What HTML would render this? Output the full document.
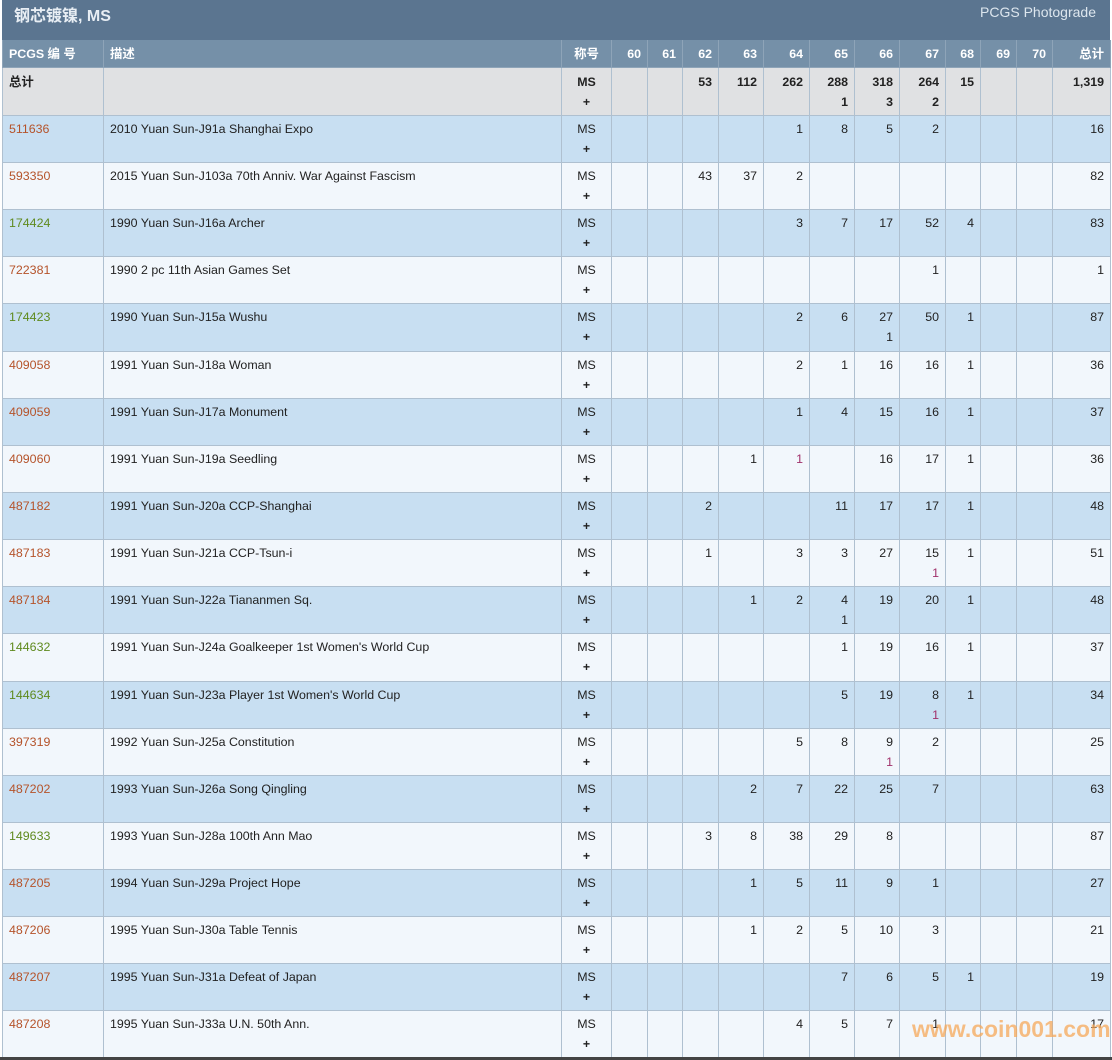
<!DOCTYPE html><html><head><meta charset="utf-8"><style>
body{margin:0;width:1112px;height:1060px;overflow:hidden;background:#fff;font-family:"Liberation Sans","Noto Sans CJK SC",sans-serif;font-size:12.4px;color:#222;position:relative}
.title{position:absolute;left:2px;top:0;width:1108px;height:40px;background:#5b7590;color:#e8eef4}
.title .l{position:absolute;left:12px;top:2px;font-size:16px;font-weight:bold}
.title .r{position:absolute;right:14px;top:4px;font-size:14px;color:#dde6ee}
table{position:absolute;left:2px;top:40px;border-collapse:collapse;table-layout:fixed;width:1108px}
td,th{border:1px solid #afc0d0;vertical-align:top;padding:3px 6px 0 6px;line-height:20px;text-align:right;overflow:hidden;white-space:nowrap}
th{background:#7590a8;color:#fff;height:22px;padding-top:5px;line-height:19px;font-weight:bold;border-top:none;border-color:#8ea4b8}
th.l,td.l{text-align:left}
th.c,td.c{text-align:center}
tr.t td{background:#e0e1e3;font-weight:bold;height:43px;padding-top:4px}
tr.b td{background:#c8dff2}
tr.w td{background:#f2f7fc}
tr.b td,tr.w td{height:43px}
tr.x td{height:44px}
a{color:#b5532a;text-decoration:none}
a.g{color:#5f8a1e}
i{font-style:normal;color:#a0306a}
.wm{position:absolute;left:912px;top:1016px;font-size:23px;font-weight:bold;color:#f7a95a;opacity:.75}
.bot{position:absolute;left:0;top:1057px;width:1112px;height:3px;background:#444}
</style></head><body>
<div class="title"><span class="l">钢芯镀镍, MS</span><span class="r">PCGS Photograde</span></div>
<table>
<colgroup><col style="width:101px"><col style="width:458px"><col style="width:50px"><col style="width:36px"><col style="width:35px"><col style="width:36px"><col style="width:45px"><col style="width:46px"><col style="width:45px"><col style="width:45px"><col style="width:46px"><col style="width:35px"><col style="width:36px"><col style="width:36px"><col style="width:58px"></colgroup>
<tr><th class="l">PCGS 编 号</th><th class="l">描述</th><th class="c">称号</th><th>60</th><th>61</th><th>62</th><th>63</th><th>64</th><th>65</th><th>66</th><th>67</th><th>68</th><th>69</th><th>70</th><th>总计</th></tr>
<tr class="t"><td class="l">总计</td><td></td><td class="c">MS<br>+</td><td></td><td></td><td>53</td><td>112</td><td>262</td><td>288<br>1</td><td>318<br>3</td><td>264<br>2</td><td>15</td><td></td><td></td><td>1,319</td></tr>
<tr class="b"><td class="l"><a>511636</a></td><td class="l">2010 Yuan Sun-J91a Shanghai Expo</td><td class="c">MS<br><b>+</b></td><td></td><td></td><td></td><td></td><td>1</td><td>8</td><td>5</td><td>2</td><td></td><td></td><td></td><td>16</td></tr>
<tr class="w"><td class="l"><a>593350</a></td><td class="l">2015 Yuan Sun-J103a 70th Anniv. War Against Fascism</td><td class="c">MS<br><b>+</b></td><td></td><td></td><td>43</td><td>37</td><td>2</td><td></td><td></td><td></td><td></td><td></td><td></td><td>82</td></tr>
<tr class="b"><td class="l"><a class="g">174424</a></td><td class="l">1990 Yuan Sun-J16a Archer</td><td class="c">MS<br><b>+</b></td><td></td><td></td><td></td><td></td><td>3</td><td>7</td><td>17</td><td>52</td><td>4</td><td></td><td></td><td>83</td></tr>
<tr class="w"><td class="l"><a>722381</a></td><td class="l">1990 2 pc 11th Asian Games Set</td><td class="c">MS<br><b>+</b></td><td></td><td></td><td></td><td></td><td></td><td></td><td></td><td>1</td><td></td><td></td><td></td><td>1</td></tr>
<tr class="b x"><td class="l"><a class="g">174423</a></td><td class="l">1990 Yuan Sun-J15a Wushu</td><td class="c">MS<br><b>+</b></td><td></td><td></td><td></td><td></td><td>2</td><td>6</td><td>27<br>1</td><td>50</td><td>1</td><td></td><td></td><td>87</td></tr>
<tr class="w"><td class="l"><a>409058</a></td><td class="l">1991 Yuan Sun-J18a Woman</td><td class="c">MS<br><b>+</b></td><td></td><td></td><td></td><td></td><td>2</td><td>1</td><td>16</td><td>16</td><td>1</td><td></td><td></td><td>36</td></tr>
<tr class="b"><td class="l"><a>409059</a></td><td class="l">1991 Yuan Sun-J17a Monument</td><td class="c">MS<br><b>+</b></td><td></td><td></td><td></td><td></td><td>1</td><td>4</td><td>15</td><td>16</td><td>1</td><td></td><td></td><td>37</td></tr>
<tr class="w"><td class="l"><a>409060</a></td><td class="l">1991 Yuan Sun-J19a Seedling</td><td class="c">MS<br><b>+</b></td><td></td><td></td><td></td><td>1</td><td><i>1</i></td><td></td><td>16</td><td>17</td><td>1</td><td></td><td></td><td>36</td></tr>
<tr class="b"><td class="l"><a>487182</a></td><td class="l">1991 Yuan Sun-J20a CCP-Shanghai</td><td class="c">MS<br><b>+</b></td><td></td><td></td><td>2</td><td></td><td></td><td>11</td><td>17</td><td>17</td><td>1</td><td></td><td></td><td>48</td></tr>
<tr class="w"><td class="l"><a>487183</a></td><td class="l">1991 Yuan Sun-J21a CCP-Tsun-i</td><td class="c">MS<br><b>+</b></td><td></td><td></td><td>1</td><td></td><td>3</td><td>3</td><td>27</td><td>15<br><i>1</i></td><td>1</td><td></td><td></td><td>51</td></tr>
<tr class="b"><td class="l"><a>487184</a></td><td class="l">1991 Yuan Sun-J22a Tiananmen Sq.</td><td class="c">MS<br><b>+</b></td><td></td><td></td><td></td><td>1</td><td>2</td><td>4<br>1</td><td>19</td><td>20</td><td>1</td><td></td><td></td><td>48</td></tr>
<tr class="w x"><td class="l"><a class="g">144632</a></td><td class="l">1991 Yuan Sun-J24a Goalkeeper 1st Women's World Cup</td><td class="c">MS<br><b>+</b></td><td></td><td></td><td></td><td></td><td></td><td>1</td><td>19</td><td>16</td><td>1</td><td></td><td></td><td>37</td></tr>
<tr class="b"><td class="l"><a class="g">144634</a></td><td class="l">1991 Yuan Sun-J23a Player 1st Women's World Cup</td><td class="c">MS<br><b>+</b></td><td></td><td></td><td></td><td></td><td></td><td>5</td><td>19</td><td>8<br><i>1</i></td><td>1</td><td></td><td></td><td>34</td></tr>
<tr class="w"><td class="l"><a>397319</a></td><td class="l">1992 Yuan Sun-J25a Constitution</td><td class="c">MS<br><b>+</b></td><td></td><td></td><td></td><td></td><td>5</td><td>8</td><td>9<br><i>1</i></td><td>2</td><td></td><td></td><td></td><td>25</td></tr>
<tr class="b"><td class="l"><a>487202</a></td><td class="l">1993 Yuan Sun-J26a Song Qingling</td><td class="c">MS<br><b>+</b></td><td></td><td></td><td></td><td>2</td><td>7</td><td>22</td><td>25</td><td>7</td><td></td><td></td><td></td><td>63</td></tr>
<tr class="w"><td class="l"><a class="g">149633</a></td><td class="l">1993 Yuan Sun-J28a 100th Ann Mao</td><td class="c">MS<br><b>+</b></td><td></td><td></td><td>3</td><td>8</td><td>38</td><td>29</td><td>8</td><td></td><td></td><td></td><td></td><td>87</td></tr>
<tr class="b"><td class="l"><a>487205</a></td><td class="l">1994 Yuan Sun-J29a Project Hope</td><td class="c">MS<br><b>+</b></td><td></td><td></td><td></td><td>1</td><td>5</td><td>11</td><td>9</td><td>1</td><td></td><td></td><td></td><td>27</td></tr>
<tr class="w"><td class="l"><a>487206</a></td><td class="l">1995 Yuan Sun-J30a Table Tennis</td><td class="c">MS<br><b>+</b></td><td></td><td></td><td></td><td>1</td><td>2</td><td>5</td><td>10</td><td>3</td><td></td><td></td><td></td><td>21</td></tr>
<tr class="b"><td class="l"><a>487207</a></td><td class="l">1995 Yuan Sun-J31a Defeat of Japan</td><td class="c">MS<br><b>+</b></td><td></td><td></td><td></td><td></td><td></td><td>7</td><td>6</td><td>5</td><td>1</td><td></td><td></td><td>19</td></tr>
<tr class="w"><td class="l"><a>487208</a></td><td class="l">1995 Yuan Sun-J33a U.N. 50th Ann.</td><td class="c">MS<br><b>+</b></td><td></td><td></td><td></td><td></td><td>4</td><td>5</td><td>7</td><td>1</td><td></td><td></td><td></td><td>17</td></tr>
</table>
<div class="wm">www.coin001.com</div>
<div class="bot"></div>
</body></html>
